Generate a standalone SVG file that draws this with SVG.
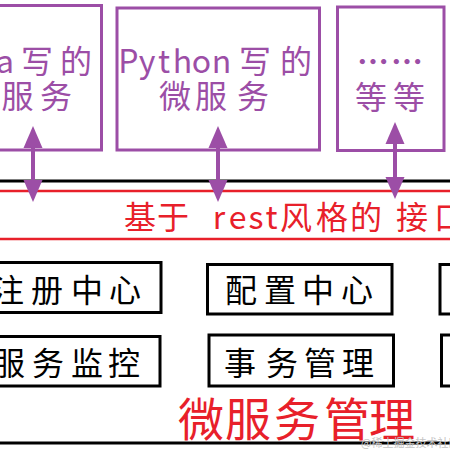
<svg xmlns="http://www.w3.org/2000/svg" width="450" height="450" viewBox="0 0 450 450">
<style>
.pbox{fill:none;stroke:#9c4ea6;stroke-width:3}
.bbox{fill:none;stroke:#000;stroke-width:3}
.t{font-family:"Noto Sans CJK SC","Noto Sans",sans-serif;text-anchor:middle}
.pt{fill:#9c4ea6;font-size:32px}
.bt{fill:#000;font-size:32px}
.rt{fill:#e8202a;font-size:32px}
.conn{stroke:#9c4ea6;stroke-width:4;fill:none;marker-start:url(#ah);marker-end:url(#ah)}
</style>
<defs>
<marker id="ah" markerUnits="userSpaceOnUse" markerWidth="24" markerHeight="22" refX="0" refY="10" orient="auto-start-reverse" viewBox="0 0 24 22">
<path d="M0,0.5 L22,10 L0,19.5 z" fill="#9c4ea6"/>
</marker>
</defs>
<rect width="450" height="450" fill="#fff"/>
<g id="java-service">
<rect class="pbox" x="-100" y="5.5" width="201.5" height="144.5"/>
<text class="t pt" x="-52 -33 -14 5 37 76" y="73">Java写的</text>
<text class="t pt" x="-21 17.5 56" y="108">微服务</text>
</g>
<g id="python-service">
<rect class="pbox" x="117" y="8" width="202.5" height="142"/>
<text class="t pt" x="128.5 147 164 182.5 201.5 221.5 255 296" y="73">Python写的</text>
<text class="t pt" x="175 211 253" y="108">微服务</text>
</g>
<g id="etc-service">
<rect class="pbox" x="337.5" y="7" width="106.5" height="143.5"/>
<text class="t pt" x="373 407" y="74" font-weight="bold">……</text>
<text class="t pt" x="371 409" y="109">等等</text>
</g>
<g id="rest-interface">
<line x1="0" y1="181" x2="450" y2="181" stroke="#000" stroke-width="3"/>
<rect x="-10" y="191" width="470" height="48" fill="none" stroke="#e8202a" stroke-width="2.5"/>
<text class="t rt" x="140 173 219 237.5 256 271.5 296 332 366 412 450" y="229">基于rest风格的接口</text>
</g>
<g id="registry">
<rect class="bbox" x="-20" y="262.5" width="181" height="50"/>
<text class="t bt" x="8 47 87 125" y="302">注册中心</text>
</g>
<g id="config">
<rect class="bbox" x="207.5" y="264.5" width="184.5" height="49.5"/>
<text class="t bt" x="241 280 318 357" y="302">配置中心</text>
</g>
<g id="box-r1">
<rect class="bbox" x="440" y="264.5" width="40" height="49.5"/>
</g>
<g id="monitor">
<rect class="bbox" x="-20" y="336.5" width="180" height="49.5"/>
<text class="t bt" x="9 48 87 124" y="375">服务监控</text>
</g>
<g id="transaction">
<rect class="bbox" x="209" y="335" width="184.5" height="51"/>
<text class="t bt" x="240 282 320 358" y="375">事务管理</text>
</g>
<g id="box-r2">
<rect class="bbox" x="441.5" y="335" width="40" height="51"/>
</g>
<g id="governance">
<text class="t" fill="#e8202a" font-size="46" x="201 248 297 347 392" y="436">微服务管理</text>
<line x1="0" y1="443" x2="450" y2="443" stroke="#000" stroke-width="3"/>
<text font-family="Noto Sans CJK SC,sans-serif" font-size="11" fill="#c4c4c4" x="361" y="447">@稀土掘金技术社区</text>
</g>
<g id="connectors">
<line class="conn" x1="33" y1="148" x2="33" y2="180"/>
<line class="conn" x1="218" y1="148" x2="218" y2="180"/>
<line class="conn" x1="395" y1="144" x2="395" y2="177"/>
</g>
</svg>
